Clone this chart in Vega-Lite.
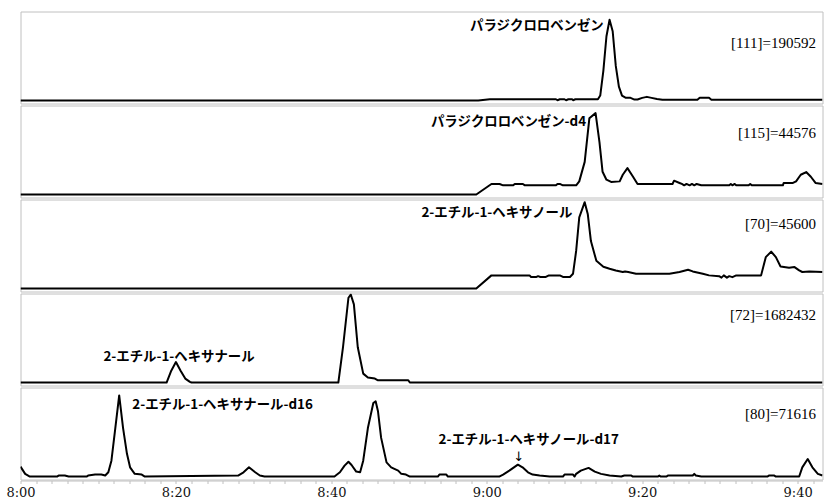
{
  "$schema": "https://vega.github.io/schema/vega-lite/v6.json",
  "padding": {"left": 5.5, "top": 10.5, "right": 0, "bottom": 0},
  "background": "white",
  "config": {"view": {"stroke": "#c0c0c0", "strokeWidth": 1}, "facet": {"spacing": 0},
    "axisX": {"title": null, "grid": false, "domainColor": "#c0c0c0", "tickColor": "#c0c0c0", "tickSize": 3, "labelFont": "DejaVu Serif", "labelFontSize": 13, "labelColor": "#111", "labelOverlap": false, "labelFlush": false, "labelPadding": 3, "labelBaseline": "top"}},
  "data": {"values": [
      {"p":1,"t":480,"v":0},{"p":1,"t":538.9,"v":0},{"p":1,"t":540.4,"v":1.3},{"p":1,"t":548.9,"v":1.3},{"p":1,"t":549.1,"v":0.3},{"p":1,"t":549.4,"v":1.3},{"p":1,"t":550.0,"v":1.3},{"p":1,"t":550.2,"v":0.3},{"p":1,"t":550.5,"v":1.3},{"p":1,"t":551.0,"v":1.3},{"p":1,"t":551.1,"v":0.3},{"p":1,"t":551.4,"v":1.3},{"p":1,"t":554.3,"v":1.3},{"p":1,"t":554.6,"v":5},{"p":1,"t":555.0,"v":30},{"p":1,"t":555.4,"v":65},{"p":1,"t":555.8,"v":81.7},{"p":1,"t":556.2,"v":70},{"p":1,"t":556.6,"v":35},{"p":1,"t":557.0,"v":14},{"p":1,"t":557.4,"v":5},{"p":1,"t":557.9,"v":2.7},{"p":1,"t":558.5,"v":2.7},{"p":1,"t":559.0,"v":1},{"p":1,"t":559.4,"v":1},{"p":1,"t":560.0,"v":2.7},{"p":1,"t":560.6,"v":3.7},{"p":1,"t":561.2,"v":2.7},{"p":1,"t":561.9,"v":1.5},{"p":1,"t":562.6,"v":0.7},{"p":1,"t":567.1,"v":0.7},{"p":1,"t":567.4,"v":2.7},{"p":1,"t":568.6,"v":2.7},{"p":1,"t":568.9,"v":0.7},{"p":1,"t":583.2,"v":0.7},
      {"p":2,"t":480,"v":0},{"p":2,"t":538.65,"v":0},{"p":2,"t":540.6,"v":10.7},{"p":2,"t":541.65,"v":10.7},{"p":2,"t":542.1,"v":9.3},{"p":2,"t":543.4,"v":9.3},{"p":2,"t":543.6,"v":10.7},{"p":2,"t":544.65,"v":10.7},{"p":2,"t":544.9,"v":9.3},{"p":2,"t":548.9,"v":9.3},{"p":2,"t":549.1,"v":10.7},{"p":2,"t":549.4,"v":10.7},{"p":2,"t":549.8,"v":9.3},{"p":2,"t":551.5,"v":9.3},{"p":2,"t":551.9,"v":13.3},{"p":2,"t":552.6,"v":33},{"p":2,"t":553.2,"v":77},{"p":2,"t":554.0,"v":82.3},{"p":2,"t":554.5,"v":53},{"p":2,"t":554.9,"v":23},{"p":2,"t":555.4,"v":15},{"p":2,"t":556.0,"v":12.7},{"p":2,"t":557.1,"v":13.3},{"p":2,"t":557.5,"v":20},{"p":2,"t":558.1,"v":26.7},{"p":2,"t":558.8,"v":18.3},{"p":2,"t":559.4,"v":10.7},{"p":2,"t":563.9,"v":10.7},{"p":2,"t":564.1,"v":14},{"p":2,"t":564.8,"v":11.7},{"p":2,"t":565.1,"v":10.7},{"p":2,"t":565.4,"v":9.3},{"p":2,"t":565.7,"v":10.7},{"p":2,"t":566.1,"v":9.3},{"p":2,"t":566.4,"v":10.7},{"p":2,"t":566.7,"v":9.3},{"p":2,"t":567.0,"v":10.7},{"p":2,"t":567.6,"v":9.3},{"p":2,"t":571.2,"v":9.3},{"p":2,"t":571.4,"v":10.7},{"p":2,"t":571.6,"v":9.3},{"p":2,"t":571.9,"v":10.7},{"p":2,"t":572.1,"v":9.3},{"p":2,"t":573.7,"v":9.3},{"p":2,"t":573.9,"v":10.7},{"p":2,"t":574.1,"v":9.3},{"p":2,"t":578.1,"v":9.3},{"p":2,"t":578.2,"v":11.7},{"p":2,"t":579.4,"v":11.7},{"p":2,"t":579.8,"v":13.3},{"p":2,"t":580.4,"v":20},{"p":2,"t":581.1,"v":22.7},{"p":2,"t":581.7,"v":18},{"p":2,"t":582.3,"v":11.7},{"p":2,"t":583.2,"v":10.7},
      {"p":3,"t":480,"v":0},{"p":3,"t":538.65,"v":0},{"p":3,"t":540.6,"v":13.3},{"p":3,"t":545.5,"v":13.3},{"p":3,"t":545.7,"v":11.7},{"p":3,"t":546.4,"v":11.7},{"p":3,"t":546.6,"v":12.5},{"p":3,"t":546.9,"v":11.7},{"p":3,"t":547.6,"v":11.7},{"p":3,"t":548.0,"v":13.3},{"p":3,"t":549.4,"v":13.3},{"p":3,"t":549.8,"v":11.7},{"p":3,"t":550.7,"v":11.7},{"p":3,"t":551.1,"v":15},{"p":3,"t":551.5,"v":38},{"p":3,"t":551.9,"v":72},{"p":3,"t":552.6,"v":87.3},{"p":3,"t":553.0,"v":75},{"p":3,"t":553.4,"v":48},{"p":3,"t":554.1,"v":28},{"p":3,"t":555.0,"v":22},{"p":3,"t":555.8,"v":20},{"p":3,"t":556.6,"v":18.3},{"p":3,"t":557.5,"v":16.7},{"p":3,"t":557.8,"v":17.3},{"p":3,"t":558.2,"v":16.7},{"p":3,"t":559.2,"v":15},{"p":3,"t":563.5,"v":15},{"p":3,"t":564.8,"v":16.7},{"p":3,"t":565.9,"v":19},{"p":3,"t":566.5,"v":17.3},{"p":3,"t":567.8,"v":15},{"p":3,"t":568.6,"v":13.3},{"p":3,"t":569.9,"v":12.5},{"p":3,"t":570.2,"v":11},{"p":3,"t":570.5,"v":13.3},{"p":3,"t":570.9,"v":11},{"p":3,"t":571.2,"v":12.5},{"p":3,"t":571.6,"v":11.5},{"p":3,"t":572.1,"v":13.3},{"p":3,"t":575.3,"v":13.3},{"p":3,"t":575.9,"v":31.7},{"p":3,"t":576.6,"v":37.3},{"p":3,"t":577.2,"v":31.7},{"p":3,"t":577.8,"v":22.3},{"p":3,"t":578.9,"v":21},{"p":3,"t":579.6,"v":21.7},{"p":3,"t":580.2,"v":18.3},{"p":3,"t":580.6,"v":16.7},{"p":3,"t":581.5,"v":17.3},{"p":3,"t":583.2,"v":16.7},
      {"p":4,"t":480,"v":0},{"p":4,"t":498.8,"v":0},{"p":4,"t":499.4,"v":12},{"p":4,"t":500.0,"v":20.7},{"p":4,"t":500.6,"v":12},{"p":4,"t":501.2,"v":4},{"p":4,"t":501.8,"v":0.7},{"p":4,"t":502.0,"v":0},{"p":4,"t":520.9,"v":0},{"p":4,"t":521.5,"v":35.7},{"p":4,"t":522.2,"v":85.7},{"p":4,"t":522.5,"v":89},{"p":4,"t":522.9,"v":79},{"p":4,"t":523.4,"v":35.7},{"p":4,"t":524.1,"v":9},{"p":4,"t":524.7,"v":5},{"p":4,"t":525.6,"v":4},{"p":4,"t":526.0,"v":2.3},{"p":4,"t":529.9,"v":2.3},{"p":4,"t":530.1,"v":0},{"p":4,"t":583.2,"v":0},
      {"p":5,"t":480.0,"v":10},{"p":5,"t":480.6,"v":2.7},{"p":5,"t":481.2,"v":0},{"p":5,"t":484.7,"v":0},{"p":5,"t":484.9,"v":1},{"p":5,"t":485.7,"v":1},{"p":5,"t":486.2,"v":0},{"p":5,"t":488.5,"v":0},{"p":5,"t":488.7,"v":1},{"p":5,"t":489.6,"v":2},{"p":5,"t":490.4,"v":2},{"p":5,"t":490.9,"v":1},{"p":5,"t":491.3,"v":4.3},{"p":5,"t":491.7,"v":16},{"p":5,"t":492.2,"v":49},{"p":5,"t":492.7,"v":82},{"p":5,"t":493.2,"v":49},{"p":5,"t":493.7,"v":23},{"p":5,"t":494.1,"v":9.3},{"p":5,"t":494.7,"v":2.7},{"p":5,"t":495.6,"v":2},{"p":5,"t":496.0,"v":0},{"p":5,"t":508.0,"v":1},{"p":5,"t":508.7,"v":4.3},{"p":5,"t":509.4,"v":9.3},{"p":5,"t":510.2,"v":4.3},{"p":5,"t":510.8,"v":1},{"p":5,"t":511.4,"v":0},{"p":5,"t":520.4,"v":0},{"p":5,"t":521.1,"v":4.3},{"p":5,"t":521.7,"v":11},{"p":5,"t":522.2,"v":15},{"p":5,"t":522.6,"v":11.7},{"p":5,"t":523.2,"v":5},{"p":5,"t":523.7,"v":4.3},{"p":5,"t":524.1,"v":16},{"p":5,"t":524.7,"v":49},{"p":5,"t":525.4,"v":74.3},{"p":5,"t":525.7,"v":76},{"p":5,"t":526.0,"v":66},{"p":5,"t":526.4,"v":39.3},{"p":5,"t":527.1,"v":14.3},{"p":5,"t":527.7,"v":9.3},{"p":5,"t":528.6,"v":6},{"p":5,"t":529.0,"v":2.7},{"p":5,"t":529.6,"v":2},{"p":5,"t":530.1,"v":0},{"p":5,"t":533.7,"v":0},{"p":5,"t":533.9,"v":2},{"p":5,"t":534.8,"v":2},{"p":5,"t":535.0,"v":0},{"p":5,"t":541.6,"v":0},{"p":5,"t":542.1,"v":2},{"p":5,"t":542.9,"v":6},{"p":5,"t":544.0,"v":12},{"p":5,"t":544.6,"v":9.3},{"p":5,"t":545.3,"v":4.3},{"p":5,"t":545.9,"v":2},{"p":5,"t":546.8,"v":1},{"p":5,"t":548.1,"v":0},{"p":5,"t":549.8,"v":0},{"p":5,"t":550.0,"v":2},{"p":5,"t":551.1,"v":2},{"p":5,"t":551.3,"v":0},{"p":5,"t":551.5,"v":2.7},{"p":5,"t":552.1,"v":6},{"p":5,"t":553.1,"v":8.7},{"p":5,"t":553.9,"v":5},{"p":5,"t":554.7,"v":2.7},{"p":5,"t":555.8,"v":1},{"p":5,"t":557.3,"v":0},{"p":5,"t":557.7,"v":1},{"p":5,"t":558.6,"v":1},{"p":5,"t":558.8,"v":0},{"p":5,"t":562.0,"v":0},{"p":5,"t":562.2,"v":1},{"p":5,"t":562.4,"v":0},{"p":5,"t":563.1,"v":0},{"p":5,"t":563.3,"v":1},{"p":5,"t":566.5,"v":1},{"p":5,"t":566.7,"v":2.7},{"p":5,"t":566.9,"v":1},{"p":5,"t":567.6,"v":0},{"p":5,"t":576.1,"v":0},{"p":5,"t":576.3,"v":1},{"p":5,"t":577.0,"v":1},{"p":5,"t":577.2,"v":0},{"p":5,"t":580.2,"v":0},{"p":5,"t":580.6,"v":9.3},{"p":5,"t":581.3,"v":17.7},{"p":5,"t":581.9,"v":9.3},{"p":5,"t":582.6,"v":2.7},{"p":5,"t":583.2,"v":1},
      {"p":1,"kind":"name","t":546.45,"v":75,"label":"パラジクロロベンゼン"},
      {"p":1,"kind":"mz","t":582.35,"v":58.3,"label":"[111]=190592"},
      {"p":2,"kind":"name","t":542.8,"v":73.3,"label":"パラジクロロベンゼン-d4"},
      {"p":2,"kind":"mz","t":582.35,"v":62.6,"label":"[115]=44576"},
      {"p":3,"kind":"name","t":541.3,"v":76.6,"label":"2-エチル-1-ヘキサノール"},
      {"p":3,"kind":"mz","t":582.35,"v":65,"label":"[70]=45600"},
      {"p":4,"kind":"mz","t":582.35,"v":68.3,"label":"[72]=1682432"},
      {"p":4,"kind":"name","t":500.4,"v":26.3,"label":"2-エチル-1-ヘキサナール"},
      {"p":5,"kind":"name","t":506.0,"v":72,"label":"2-エチル-1-ヘキサナール-d16"},
      {"p":5,"kind":"mz","t":582.35,"v":63.3,"label":"[80]=71616"},
      {"p":5,"kind":"name","t":545.4,"v":37,"label":"2-エチル-1-ヘキサノール-d17"},
      {"p":5,"kind":"arrow","t":544.1,"v":20,"label":"↓"}
  ]},
  "facet": {"row": {"field": "p", "type": "ordinal", "header": {"labels": false, "title": null, "labelPadding": 0, "titlePadding": 0}}},
  "spacing": 0,
  "spec": {
    "width": 802,
    "height": 92,
    "encoding": {
      "x": {"field": "t", "type": "quantitative", "scale": {"domain": [480, 583.2], "nice": false, "zero": false},
        "axis": {"values": [480,482,484,486,488,490,492,494,496,498,500,502,504,506,508,510,512,514,516,518,520,522,524,526,528,530,532,534,536,538,540,542,544,546,548,550,552,554,556,558,560,562,564,566,568,570,572,574,576,578,580,582],
          "labelExpr": "datum.value % 20 == 0 ? floor(datum.value/60) + ':' + (datum.value % 60 < 10 ? '0' : '') + (datum.value % 60) : ''"}},
      "y": {"field": "v", "type": "quantitative", "scale": {"domain": [-3, 90], "nice": false, "zero": false}, "axis": null}
    },
    "layer": [
      {
        "mark": {"type": "line", "color": "black", "strokeWidth": 2, "strokeJoin": "round", "clip": true},
        "transform": [{"filter": "!isValid(datum.kind)"}]
      },
      {
        "mark": {"type": "text", "font": "Noto Sans CJK JP", "fontWeight": "bold", "fontSize": 13.4, "align": "center", "baseline": "middle", "color": "black"},
        "transform": [{"filter": "datum.kind == 'name'"}],
        "encoding": {"text": {"field": "label"}}
      },
      {
        "mark": {"type": "text", "font": "DejaVu Sans", "fontSize": 13, "align": "center", "baseline": "middle", "color": "black"},
        "transform": [{"filter": "datum.kind == 'arrow'"}],
        "encoding": {"text": {"field": "label"}}
      },
      {
        "mark": {"type": "text", "font": "Liberation Serif", "fontSize": 15, "align": "right", "baseline": "middle", "color": "black"},
        "transform": [{"filter": "datum.kind == 'mz'"}],
        "encoding": {"text": {"field": "label"}}
      }
    ]
  }
}
